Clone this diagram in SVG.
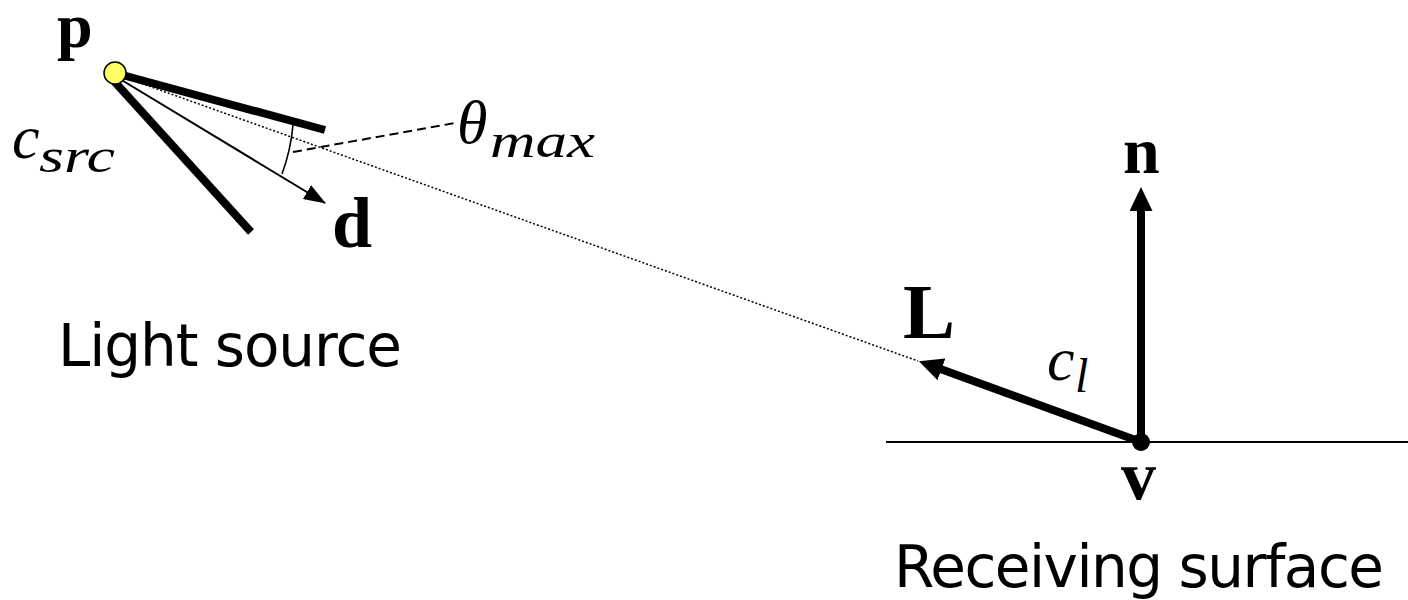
<svg xmlns="http://www.w3.org/2000/svg" width="1408" height="600" viewBox="0 0 1408 600">
<style>
.bf{font-family:"Liberation Serif","DejaVu Serif",serif;font-weight:bold;fill:#000}
.it{font-family:"Liberation Serif","DejaVu Serif",serif;font-style:italic;font-size:62px;fill:#000}
.sub{font-family:"Liberation Serif","DejaVu Serif",serif;font-style:italic;font-size:48px;fill:#000}
.cap{font-family:"DejaVu Sans","Noto Sans",sans-serif;font-size:58px;fill:#000}
.thick{stroke:#000;stroke-width:8;fill:none}
</style>
<defs>
<marker id="ahBig" markerUnits="userSpaceOnUse" markerWidth="24" markerHeight="23" refX="1" refY="11.5" orient="auto" viewBox="0 0 24 23">
<path d="M0,0 L24,11.5 L0,23 Z" fill="#000"/>
</marker>
<marker id="ahSmall" markerUnits="userSpaceOnUse" markerWidth="22" markerHeight="16" refX="21" refY="8" orient="auto" viewBox="0 0 22 16">
<path d="M0,0 L22,8 L0,16 Z" fill="#000"/>
</marker>
</defs>
<g id="connectors">
<line x1="115" y1="74" x2="918" y2="361" stroke="#000" stroke-width="1.5" stroke-dasharray="2 2"/>
<line x1="293" y1="152" x2="455" y2="123" stroke="#000" stroke-width="2" stroke-dasharray="9 5"/>
<path d="M293,125 A190,190 0 0 1 282,174" fill="none" stroke="#000" stroke-width="1.6"/>
<line x1="115" y1="76" x2="325" y2="203" stroke="#000" stroke-width="2" marker-end="url(#ahSmall)"/>
<line x1="1141" y1="442" x2="1141" y2="210" class="thick" marker-end="url(#ahBig)"/>
<line x1="1141" y1="442" x2="940.5" y2="369" class="thick" marker-end="url(#ahBig)"/>
</g>
<g id="light-source">
<line x1="115" y1="73" x2="325" y2="130" class="thick"/>
<line x1="113" y1="80" x2="251" y2="232" class="thick"/>
<circle cx="115" cy="73" r="11" fill="#ffff66" stroke="#000" stroke-width="1.5"/>
<text class="bf" x="57" y="47" font-size="64">p</text>
<text class="bf" x="332" y="247" font-size="72">d</text>
<text class="it" x="12" y="158">c</text>
<text class="sub" x="39" y="172" textLength="76" lengthAdjust="spacingAndGlyphs">src</text>
<text class="it" x="457" y="143" font-size="64">θ</text>
<text class="sub" x="490" y="157" textLength="105" lengthAdjust="spacingAndGlyphs">max</text>
<text class="cap" x="58" y="366" textLength="344">Light source</text>
</g>
<g id="receiving-surface">
<line x1="886" y1="442" x2="1408" y2="442" stroke="#000" stroke-width="2"/>
<circle cx="1141" cy="442" r="9" fill="#000"/>
<text class="bf" x="1123" y="173" font-size="66">n</text>
<text class="bf" x="903" y="338" font-size="78">L</text>
<text class="bf" x="1121" y="499" font-size="70">v</text>
<text class="it" x="1047" y="380">c</text>
<text class="sub" x="1075" y="392">l</text>
<text class="cap" x="894" y="587" textLength="490">Receiving surface</text>
</g>
</svg>
